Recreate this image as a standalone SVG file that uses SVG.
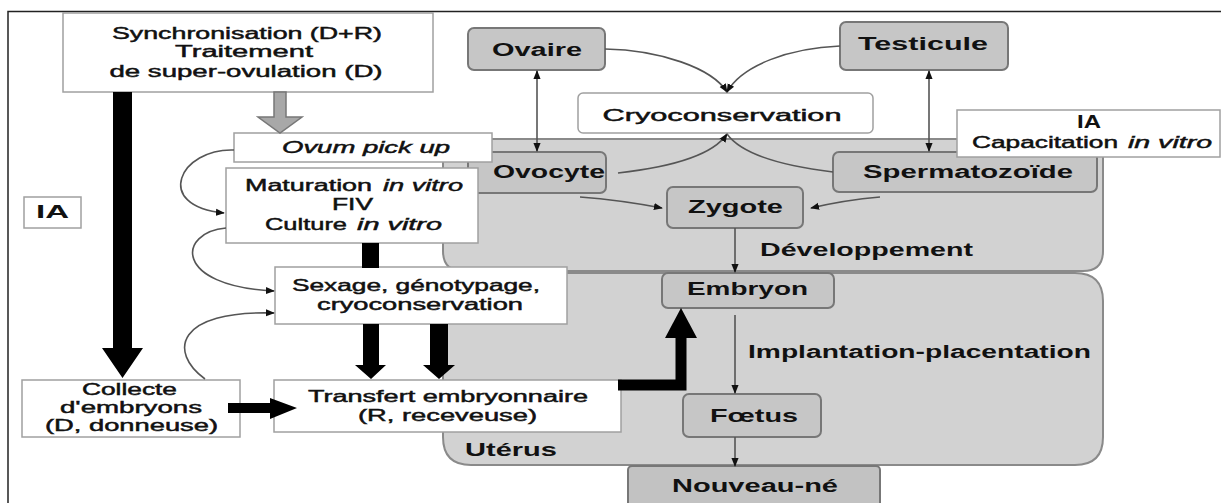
<svg xmlns="http://www.w3.org/2000/svg" width="1221" height="503" viewBox="0 0 1221 503">
<style>
text{font-family:"Liberation Sans",Arial,sans-serif;fill:#111;}
.w{font-size:16px;stroke:#111;stroke-width:0.45;}
.b{font-size:18px;font-weight:bold;}
.i{font-style:italic;}
.wbox{fill:#fff;stroke:#a0a0a0;stroke-width:1.5;}
.gbox{fill:#c6c6c6;stroke:#777;stroke-width:2;}
.region{fill:#d2d2d2;stroke:#8a8a8a;stroke-width:2;}
.thin{fill:none;stroke:#555;stroke-width:1.6;}
.blk{fill:#000;}
</style>
<defs>
<marker id="ah" viewBox="0 0 10 10" refX="9" refY="5" markerWidth="9" markerHeight="9" markerUnits="userSpaceOnUse" orient="auto-start-reverse">
<path d="M0,1 L10,5 L0,9 Z" fill="#111"/>
</marker>
</defs>
<rect width="1221" height="503" fill="#fff"/>
<g id="frame">
<path d="M8 503 V11.5 H1221" fill="none" stroke="#222" stroke-width="1.5"/>
</g>
<g id="developpement">
<path class="region" d="M443 139 H1103 V251 Q1103 271 1083 271 H463 Q443 271 443 251 Z"/>
<text class="b" x="760" y="256" textLength="213" lengthAdjust="spacingAndGlyphs">Développement</text>
</g>
<g id="uterus">
<path class="region" d="M443 273 H1075 Q1103 273 1103 301 V437 Q1103 465 1075 465 H471 Q443 465 443 437 Z"/>
<text class="b" x="465" y="456" textLength="92" lengthAdjust="spacingAndGlyphs">Utérus</text>
</g>
<g id="sync">
<rect class="wbox" x="63" y="13" width="370" height="79"/>
<text class="w" x="247" y="39" text-anchor="middle" textLength="270" lengthAdjust="spacingAndGlyphs">Synchronisation (D+R)</text>
<text class="w" x="244" y="57" text-anchor="middle" textLength="138" lengthAdjust="spacingAndGlyphs">Traitement</text>
<text class="w" x="246" y="77" text-anchor="middle" textLength="273" lengthAdjust="spacingAndGlyphs">de super-ovulation (D)</text>
</g>
<g id="ia-left">
<rect class="wbox" x="24" y="197" width="57" height="31"/>
<text class="b" x="52.5" y="218" text-anchor="middle" font-size="16" textLength="33" lengthAdjust="spacingAndGlyphs">IA</text>
</g>
<g id="ovaire">
<rect class="gbox" x="468" y="28" width="137" height="42" rx="6"/>
<text class="b" x="537" y="56" text-anchor="middle" textLength="90" lengthAdjust="spacingAndGlyphs">Ovaire</text>
</g>
<g id="testicule">
<rect class="gbox" x="840" y="22" width="168" height="48" rx="6"/>
<text class="b" x="923" y="50" text-anchor="middle" textLength="130" lengthAdjust="spacingAndGlyphs">Testicule</text>
</g>
<g id="cryo">
<rect class="wbox" x="578" y="93" width="295" height="40" rx="5"/>
<text class="w" x="722" y="121" text-anchor="middle" textLength="239" lengthAdjust="spacingAndGlyphs">Cryoconservation</text>
</g>
<g id="ovocyte">
<rect class="gbox" x="468" y="152" width="138" height="41" rx="6"/>
<text class="b" x="549" y="178" text-anchor="middle" textLength="112" lengthAdjust="spacingAndGlyphs">Ovocyte</text>
</g>
<g id="spermatozoide">
<rect class="gbox" x="833" y="152" width="264" height="40" rx="6"/>
<text class="b" x="968" y="178" text-anchor="middle" textLength="210" lengthAdjust="spacingAndGlyphs">Spermatozoïde</text>
</g>
<g id="ia-capacitation">
<rect class="wbox" x="957" y="110" width="263" height="47"/>
<text class="b" x="1089" y="128" text-anchor="middle" font-size="16" textLength="24" lengthAdjust="spacingAndGlyphs">IA</text>
<text class="w" y="148"><tspan x="972" textLength="146" lengthAdjust="spacingAndGlyphs">Capacitation</tspan><tspan class="i" x="1128" textLength="84" lengthAdjust="spacingAndGlyphs">in vitro</tspan></text>
</g>
<g id="zygote">
<rect class="gbox" x="667" y="187" width="136" height="41" rx="6"/>
<text class="b" x="735.5" y="213" text-anchor="middle" textLength="95" lengthAdjust="spacingAndGlyphs">Zygote</text>
</g>
<g id="embryon">
<rect class="gbox" x="662" y="273" width="172" height="35" rx="6"/>
<text class="b" x="747.5" y="295" text-anchor="middle" textLength="121" lengthAdjust="spacingAndGlyphs">Embryon</text>
</g>
<g id="implantation">
<text class="b" x="748" y="358" textLength="343" lengthAdjust="spacingAndGlyphs">Implantation-placentation</text>
</g>
<g id="foetus">
<rect class="gbox" x="683" y="394" width="138" height="43" rx="6"/>
<text class="b" x="754" y="422" text-anchor="middle" textLength="88" lengthAdjust="spacingAndGlyphs">Fœtus</text>
</g>
<g id="nouveau-ne">
<rect x="628" y="466" width="252" height="45" rx="4" fill="#c2c2c2" stroke="#777" stroke-width="2"/>
<text class="b" x="755" y="492" text-anchor="middle" textLength="166" lengthAdjust="spacingAndGlyphs">Nouveau-né</text>
</g>
<g id="ovum">
<rect class="wbox" x="234" y="133" width="258" height="29"/>
<text class="w i" x="366" y="153" text-anchor="middle" textLength="168" lengthAdjust="spacingAndGlyphs">Ovum pick up</text>
</g>
<g id="maturation">
<rect class="wbox" x="226" y="168" width="252" height="75"/>
<text class="w" y="191"><tspan x="245" textLength="127" lengthAdjust="spacingAndGlyphs">Maturation</tspan><tspan class="i" x="383" textLength="80" lengthAdjust="spacingAndGlyphs">in vitro</tspan></text>
<text class="w" x="352.5" y="210" text-anchor="middle" textLength="41" lengthAdjust="spacingAndGlyphs">FIV</text>
<text class="w" y="230"><tspan x="265" textLength="82" lengthAdjust="spacingAndGlyphs">Culture</tspan><tspan class="i" x="357" textLength="85" lengthAdjust="spacingAndGlyphs">in vitro</tspan></text>
</g>
<g id="sexage">
<rect class="wbox" x="275" y="267" width="292" height="57"/>
<text class="w" x="416" y="291" text-anchor="middle" textLength="248" lengthAdjust="spacingAndGlyphs">Sexage, génotypage,</text>
<text class="w" x="420" y="310" text-anchor="middle" textLength="206" lengthAdjust="spacingAndGlyphs">cryoconservation</text>
</g>
<g id="collecte">
<rect class="wbox" x="22" y="380" width="218" height="57"/>
<text class="w" x="129.5" y="395" text-anchor="middle" textLength="95" lengthAdjust="spacingAndGlyphs">Collecte</text>
<text class="w" x="131" y="413" text-anchor="middle" textLength="142" lengthAdjust="spacingAndGlyphs">d'embryons</text>
<text class="w" x="131.5" y="431" text-anchor="middle" textLength="173" lengthAdjust="spacingAndGlyphs">(D, donneuse)</text>
</g>
<g id="transfert">
<rect class="wbox" x="274" y="380" width="347" height="52"/>
<text class="w" x="448" y="402" text-anchor="middle" textLength="280" lengthAdjust="spacingAndGlyphs">Transfert embryonnaire</text>
<text class="w" x="447.5" y="421" text-anchor="middle" textLength="179" lengthAdjust="spacingAndGlyphs">(R, receveuse)</text>
</g>
<g id="connectors">
<path class="thin" d="M234 150 C180 148 152 206 224 213" marker-end="url(#ah)"/>
<path class="thin" d="M226 228 C178 232 172 286 274 291" marker-end="url(#ah)"/>
<path class="thin" d="M205 379 C168 352 176 310 274 313" marker-end="url(#ah)"/>
<path class="thin" d="M605 49 C660 50 712 68 727 92" marker-end="url(#ah)"/>
<path class="thin" d="M840 46 C790 48 742 65 727 92" marker-end="url(#ah)"/>
<path class="thin" d="M618 173 C680 166 715 152 727 134" marker-end="url(#ah)"/>
<path class="thin" d="M833 172 C775 165 740 152 727 134"/>
<path class="thin" d="M580 197 Q620 200 662 208" marker-end="url(#ah)"/>
<path class="thin" d="M880 197 Q845 200 811 208" marker-end="url(#ah)"/>
<path class="thin" d="M537 71 V151" marker-start="url(#ah)" marker-end="url(#ah)"/>
<path class="thin" d="M929 71 V151" marker-start="url(#ah)" marker-end="url(#ah)"/>
<path class="thin" d="M735 228 V272" marker-end="url(#ah)"/>
<path class="thin" d="M735 315 V393" marker-end="url(#ah)"/>
<path class="thin" d="M735 437 V466" marker-end="url(#ah)"/>
<path d="M274 92 H286 V117 H302 L280 133 L258 117 H274 Z" fill="#a8a8a8" stroke="#777" stroke-width="1.5"/>
<path class="blk" d="M113 92 H132 V348 H143 L122.5 378 L102 348 H113 Z"/>
<rect class="blk" x="362" y="243" width="17" height="25"/>
<path class="blk" d="M363 324 H379 V365 H386 L371 379 L355 365 H363 Z"/>
<path class="blk" d="M430 324 H448 V365 H455 L439 379 L423 365 H430 Z"/>
<path class="blk" d="M228 403 H270 V398 L297 408 L270 419 V413 H228 Z"/>
<path d="M618 385 H681 V337" fill="none" stroke="#000" stroke-width="11"/>
<path class="blk" d="M665 338 L697 338 L681 308 Z"/>
</g>
</svg>
